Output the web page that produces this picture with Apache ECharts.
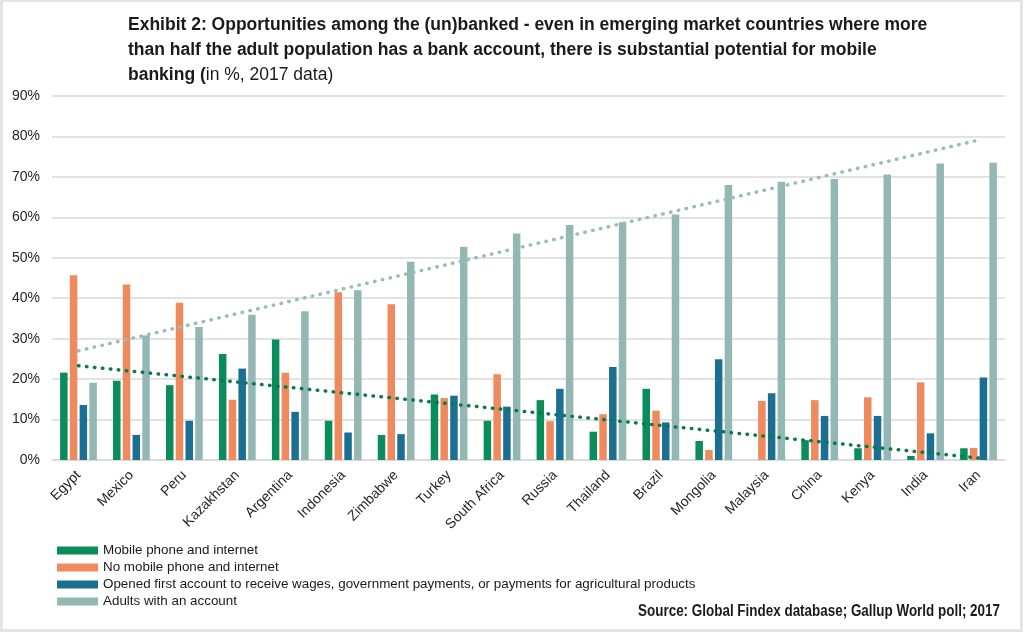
<!DOCTYPE html>
<html>
<head>
<meta charset="utf-8">
<script src="https://cdn.jsdelivr.net/npm/echarts@6/dist/echarts.min.js"></script>
<style>
  html, body { margin: 0; padding: 0; background: #fff; }
  #main { width: 1024px; height: 632px; }
</style>
</head>
<body>
<div id="main"></div>
<script>
// data (in %)
var countries = ["Egypt", "Mexico", "Peru", "Kazakhstan", "Argentina", "Indonesia", "Zimbabwe", "Turkey",
  "South Africa", "Russia", "Thailand", "Brazil", "Mongolia", "Malaysia", "China", "Kenya", "India", "Iran"];
var mobileInternet = [21.6, 19.6, 18.5, 26.2, 29.8, 9.7, 6.2, 16.2, 9.7, 14.8, 7.0, 17.6, 4.7, 0, 4.9, 2.9, 1.0, 2.9];
var noMobile = [45.7, 43.4, 38.9, 14.9, 21.6, 41.5, 38.5, 15.3, 21.2, 9.6, 11.3, 12.2, 2.5, 14.6, 14.8, 15.5, 19.2, 3.0];
var firstAccount = [13.6, 6.2, 9.7, 22.6, 11.9, 6.8, 6.4, 15.9, 13.2, 17.6, 23.0, 9.3, 24.9, 16.5, 10.9, 10.9, 6.6, 20.4];
var withAccount = [19.1, 30.8, 32.9, 35.9, 36.8, 42.0, 49.0, 52.7, 56.0, 58.1, 58.8, 60.7, 68.0, 68.8, 69.5, 70.6, 73.3, 73.5];
// dotted trend lines, start (Egypt) and end (Iran)
var accountTrend = [27.0, 79.1];
var mobileTrend = [23.3, 0.5];
var yTicks = [0, 10, 20, 30, 40, 50, 60, 70, 80, 90];

var seriesNames = [
  "Mobile phone and internet",
  "No mobile phone and internet",
  "Opened first account to receive wages, government payments, or payments for agricultural products",
  "Adults with an account"
];
var colors = ["#0a8d5a", "#ef8a5e", "#1b6f93", "#93b8b4"];

var last = countries.length - 1;
function trendData(t) {
  return [[0, t[0]], [last, t[1]]];
}

var myChart = echarts.init(document.getElementById("main"));

var barSeries = [mobileInternet, noMobile, firstAccount, withAccount].map(function (d, i) {
  return {
    name: seriesNames[i],
    type: "bar",
    barWidth: 7.5,
    barGap: "30%",
    itemStyle: { color: colors[i] },
    data: d
  };
});

myChart.setOption({
  animation: false,
  textStyle: { fontFamily: "Liberation Sans, Arial, sans-serif" },
  title: {
    left: 123,
    top: 8,
    text: "{b|Exhibit 2: Opportunities among the (un)banked - even in emerging market countries where more}\n" +
      "{b|than half the adult population has a bank account, there is substantial potential for mobile}\n" +
      "{b|banking (}{n|in %, 2017 data)}",
    textStyle: {
      rich: {
        b: { fontSize: 17.5, fontWeight: "bold", color: "#1a1a1a", lineHeight: 25 },
        n: { fontSize: 17.5, fontWeight: "normal", color: "#1a1a1a", lineHeight: 25 }
      }
    }
  },
  legend: {
    orient: "vertical",
    left: 57,
    top: 543,
    padding: 0,
    itemWidth: 41,
    itemHeight: 8,
    itemGap: 2,
    icon: "rect",
    data: seriesNames,
    textStyle: { fontSize: 13.4, color: "#1a1a1a", lineHeight: 15 }
  },
  grid: { left: 52, right: 19, top: 96, bottom: 172, containLabel: false },
  xAxis: {
    type: "category",
    data: countries,
    axisTick: { show: false },
    axisLine: { lineStyle: { color: "#d9d9d9", width: 1.5 } },
    axisLabel: { rotate: 45, fontSize: 14, color: "#262626", margin: 13, interval: 0 }
  },
  yAxis: {
    type: "value",
    min: yTicks[0],
    max: yTicks[yTicks.length - 1],
    interval: 10,
    axisLine: { show: false },
    axisTick: { show: false },
    splitLine: { lineStyle: { color: "#d9d9d9", width: 1.5 } },
    axisLabel: { fontSize: 14, color: "#262626", margin: 12, formatter: "{value}%" }
  },
  graphic: [
    {
      type: "rect",
      shape: { x: 1.5, y: 0.5, width: 1020, height: 630 },
      style: { fill: null, stroke: "#e4e4e4", lineWidth: 3 },
      silent: true
    },
    {
      type: "text",
      x: 1000,
      y: 612,
      scaleX: 0.84,
      style: {
        x: 0,
        y: 0,
        text: "Source: Global Findex database; Gallup World poll; 2017",
        font: "bold 16px 'Liberation Sans', Arial, sans-serif",
        fill: "#1a1a1a",
        align: "right",
        verticalAlign: "middle"
      }
    }
  ],
  series: barSeries.concat([
    {
      name: "accountTrend",
      type: "line",
      data: trendData(accountTrend),
      symbol: "none",
      lineStyle: { color: "#9bbcb9", width: 3.5, type: [0.5, 7.5], cap: "round" },
      z: 5
    },
    {
      name: "mobileTrend",
      type: "line",
      data: trendData(mobileTrend),
      symbol: "none",
      lineStyle: { color: "#0b7a48", width: 3.5, type: [0.5, 7.5], cap: "round" },
      z: 5
    }
  ])
});
</script>
</body>
</html>
